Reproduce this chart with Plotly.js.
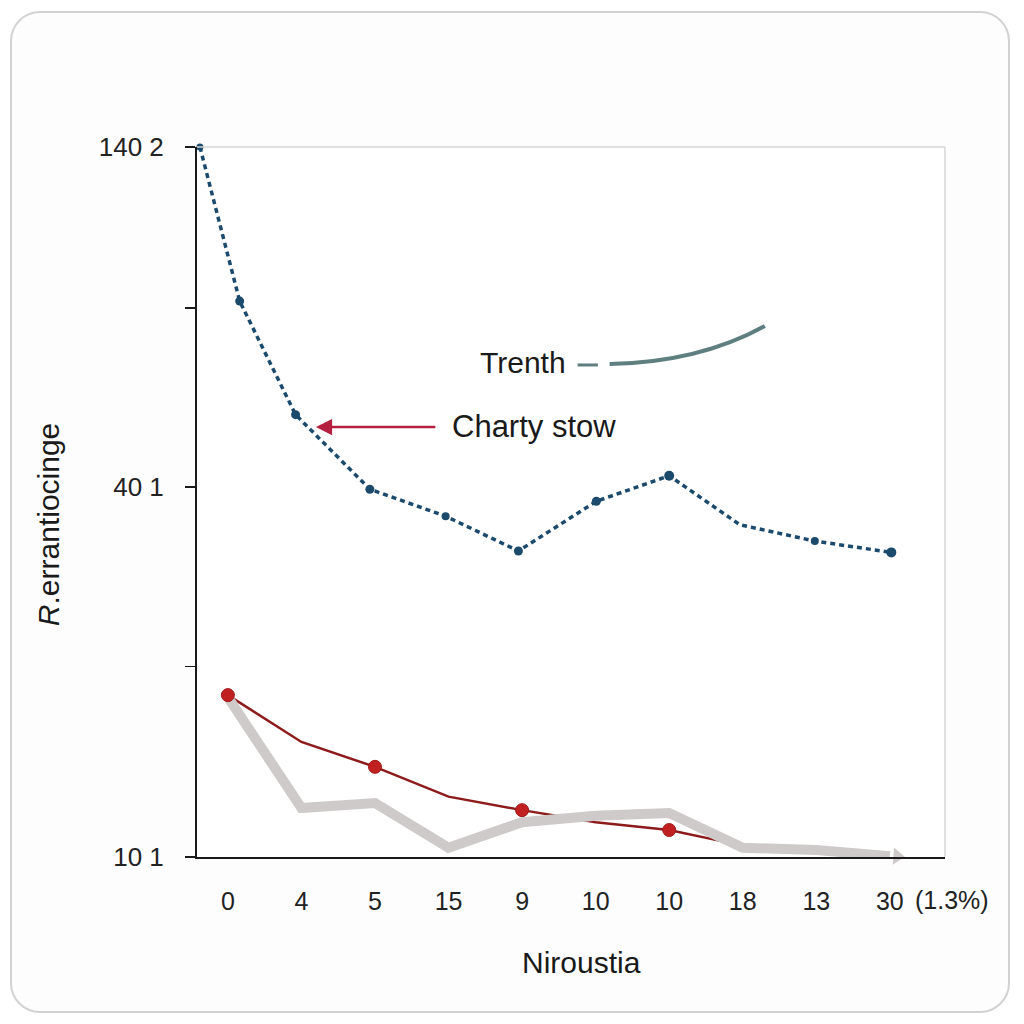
<!DOCTYPE html>
<html>
<head>
<meta charset="utf-8">
<script src="https://cdn.plot.ly/plotly-3.0.1.min.js"></script>
<style>
  html, body { margin: 0; padding: 0; background: #ffffff; width: 1024px; height: 1024px; overflow: hidden; }
  #card { position: absolute; left: 10px; top: 11px; width: 1000px; height: 1002px; border: 2px solid #d2d2d2; border-radius: 30px; background: #fdfdfd; box-sizing: border-box; }
  #chart { position: absolute; left: 0; top: 0; width: 1024px; height: 1024px; }
</style>
</head>
<body>
<div id="card"></div>
<div id="chart"></div>
<script>
// ---- data ----
var categories = ["0", "4", "5", "15", "9", "10", "10", "18", "13", "30"];
var categoryIndex = [0, 1, 2, 3, 4, 5, 6, 7, 8, 9];

var yTickVals = [0, 26.8, 52.1, 77.3, 100];
var yTickText = ["10 1", "", "40 1", "", "140 2"];

var blueX = [-0.38, 0.16, 0.92, 1.93, 2.96, 3.95, 5.01, 6.0, 6.96, 7.98, 9.02];
var blueY = [100, 78.3, 62.3, 51.8, 48.0, 43.1, 50.1, 53.7, 46.8, 44.5, 42.9];
var blueMarkerSize = [7, 9, 9, 9, 8, 9, 9, 10, 0, 8, 10];

var redX = [0, 1, 2, 3, 4, 5, 6, 7];
var redY = [22.8, 16.2, 12.7, 8.5, 6.6, 4.9, 3.8, 1.6];
var redMarkX = [0, 2, 4, 6];
var redMarkY = [22.8, 12.7, 6.6, 3.8];

var greyX = [0, 1, 2, 3, 4, 5, 6, 7, 8, 9.0];
var greyY = [22.5, 6.9, 7.6, 1.3, 4.9, 5.8, 6.2, 1.3, 1.0, 0.1];
var greyHeadX = [9.1];
var greyHeadY = [0.1];

// ---- traces ----
var font = "Liberation Sans, Arial, Helvetica, sans-serif";

var traces = [
  {
    x: redX, y: redY, type: "scatter", mode: "lines",
    line: { color: "#8e1b1b", width: 2.5 },
    hoverinfo: "skip", showlegend: false
  },
  {
    x: greyX, y: greyY, type: "scatter", mode: "lines",
    line: { color: "#cfcaca", width: 10 },
    hoverinfo: "skip", showlegend: false
  },
  {
    x: greyHeadX, y: greyHeadY, type: "scatter", mode: "markers",
    marker: { symbol: "triangle-right", size: 15, color: "#cfcaca", angle: 4, line: { width: 0 } },
    cliponaxis: false,
    hoverinfo: "skip", showlegend: false
  },
  {
    x: redMarkX, y: redMarkY, type: "scatter", mode: "markers",
    marker: { color: "#c0201f", size: 13, line: { color: "#a01818", width: 1 } },
    hoverinfo: "skip", showlegend: false
  },
  {
    x: blueX, y: blueY, type: "scatter", mode: "lines+markers",
    line: { color: "#1b4a6d", width: 3.5, dash: "5px,4px" },
    marker: { color: "#1b4a6d", size: blueMarkerSize, opacity: 1, line: { width: 0 } },
    cliponaxis: false,
    hoverinfo: "skip", showlegend: false
  }
];

var layout = {
  width: 1024, height: 1024,
  margin: { l: 197, r: 79, t: 147, b: 167, pad: 0 },
  paper_bgcolor: "rgba(0,0,0,0)",
  plot_bgcolor: "#ffffff",
  font: { family: font, color: "#222222" },
  showlegend: false,
  xaxis: {
    range: [-0.42, 9.75],
    tickmode: "array", tickvals: categoryIndex, ticktext: categories,
    showgrid: false, zeroline: false,
    showline: true, linecolor: "#1a1a1a", linewidth: 2,
    ticks: "", ticklabelstandoff: 21,
    tickfont: { size: 25, color: "#222222", family: font },
    fixedrange: true
  },
  yaxis: {
    range: [0, 100],
    tickmode: "array", tickvals: yTickVals, ticktext: yTickText,
    showgrid: false, zeroline: false,
    showline: true, linecolor: "#1a1a1a", linewidth: 2,
    ticks: "outside", ticklen: 10, tickwidth: 1.5, tickcolor: "#1a1a1a",
    ticklabelstandoff: 16,
    tickfont: { size: 26, color: "#222222", family: font },
    fixedrange: true
  },
  shapes: [
    { type: "line", xref: "paper", yref: "paper", x0: 0, x1: 1, y0: 1, y1: 1,
      line: { color: "#d6d6d6", width: 1.5 } },
    { type: "line", xref: "paper", yref: "paper", x0: 1, x1: 1, y0: 0, y1: 1,
      line: { color: "#d6d6d6", width: 1.5 } },
    { type: "line", xref: "x", yref: "y", x0: 4.755, x1: 5.03, y0: 69.3, y1: 69.3,
      line: { color: "#5e7e80", width: 3 } },
    { type: "path", xref: "x", yref: "y",
      path: "M 5.19 69.44 Q 6.41 69.7 7.30 74.8",
      line: { color: "#5e7e80", width: 4 } }
  ],
  annotations: [
    { xref: "x", yref: "y", x: 4.62, y: 69.6, text: "Trenth", showarrow: false,
      xanchor: "right", yanchor: "middle", font: { size: 30, color: "#1a1a1a", family: font } },
    { xref: "x", yref: "y", x: 3.016, y: 60.7, text: "Charty stow", showarrow: false,
      xanchor: "left", yanchor: "middle", font: { size: 31, color: "#1a1a1a", family: font } },
    { xref: "x", yref: "y", x: 1.196, y: 60.56, text: "", showarrow: true,
      ax: 121, ay: 0, arrowhead: 2, arrowsize: 1.3, arrowwidth: 2.5, arrowcolor: "#b5203e", standoff: 0 },
    { xref: "x", yref: "paper", x: 9.31, y: 0, yshift: -43, text: "(1.3%)", showarrow: false,
      xanchor: "left", yanchor: "middle", font: { size: 25, color: "#222222", family: font } },
    { xref: "paper", yref: "paper", x: 0.5147, y: -0.149, text: "Niroustia", showarrow: false,
      xanchor: "center", yanchor: "middle", font: { size: 30, color: "#1a1a1a", family: font } },
    { xref: "paper", yref: "paper", x: -0.199, y: 0.4676, text: "<i>R</i>.errantiocinge", showarrow: false,
      textangle: -90, xanchor: "center", yanchor: "middle", font: { size: 30, color: "#1a1a1a", family: font } }
  ]
};

Plotly.newPlot("chart", traces, layout, { displayModeBar: false, staticPlot: true });
</script>
</body>
</html>
